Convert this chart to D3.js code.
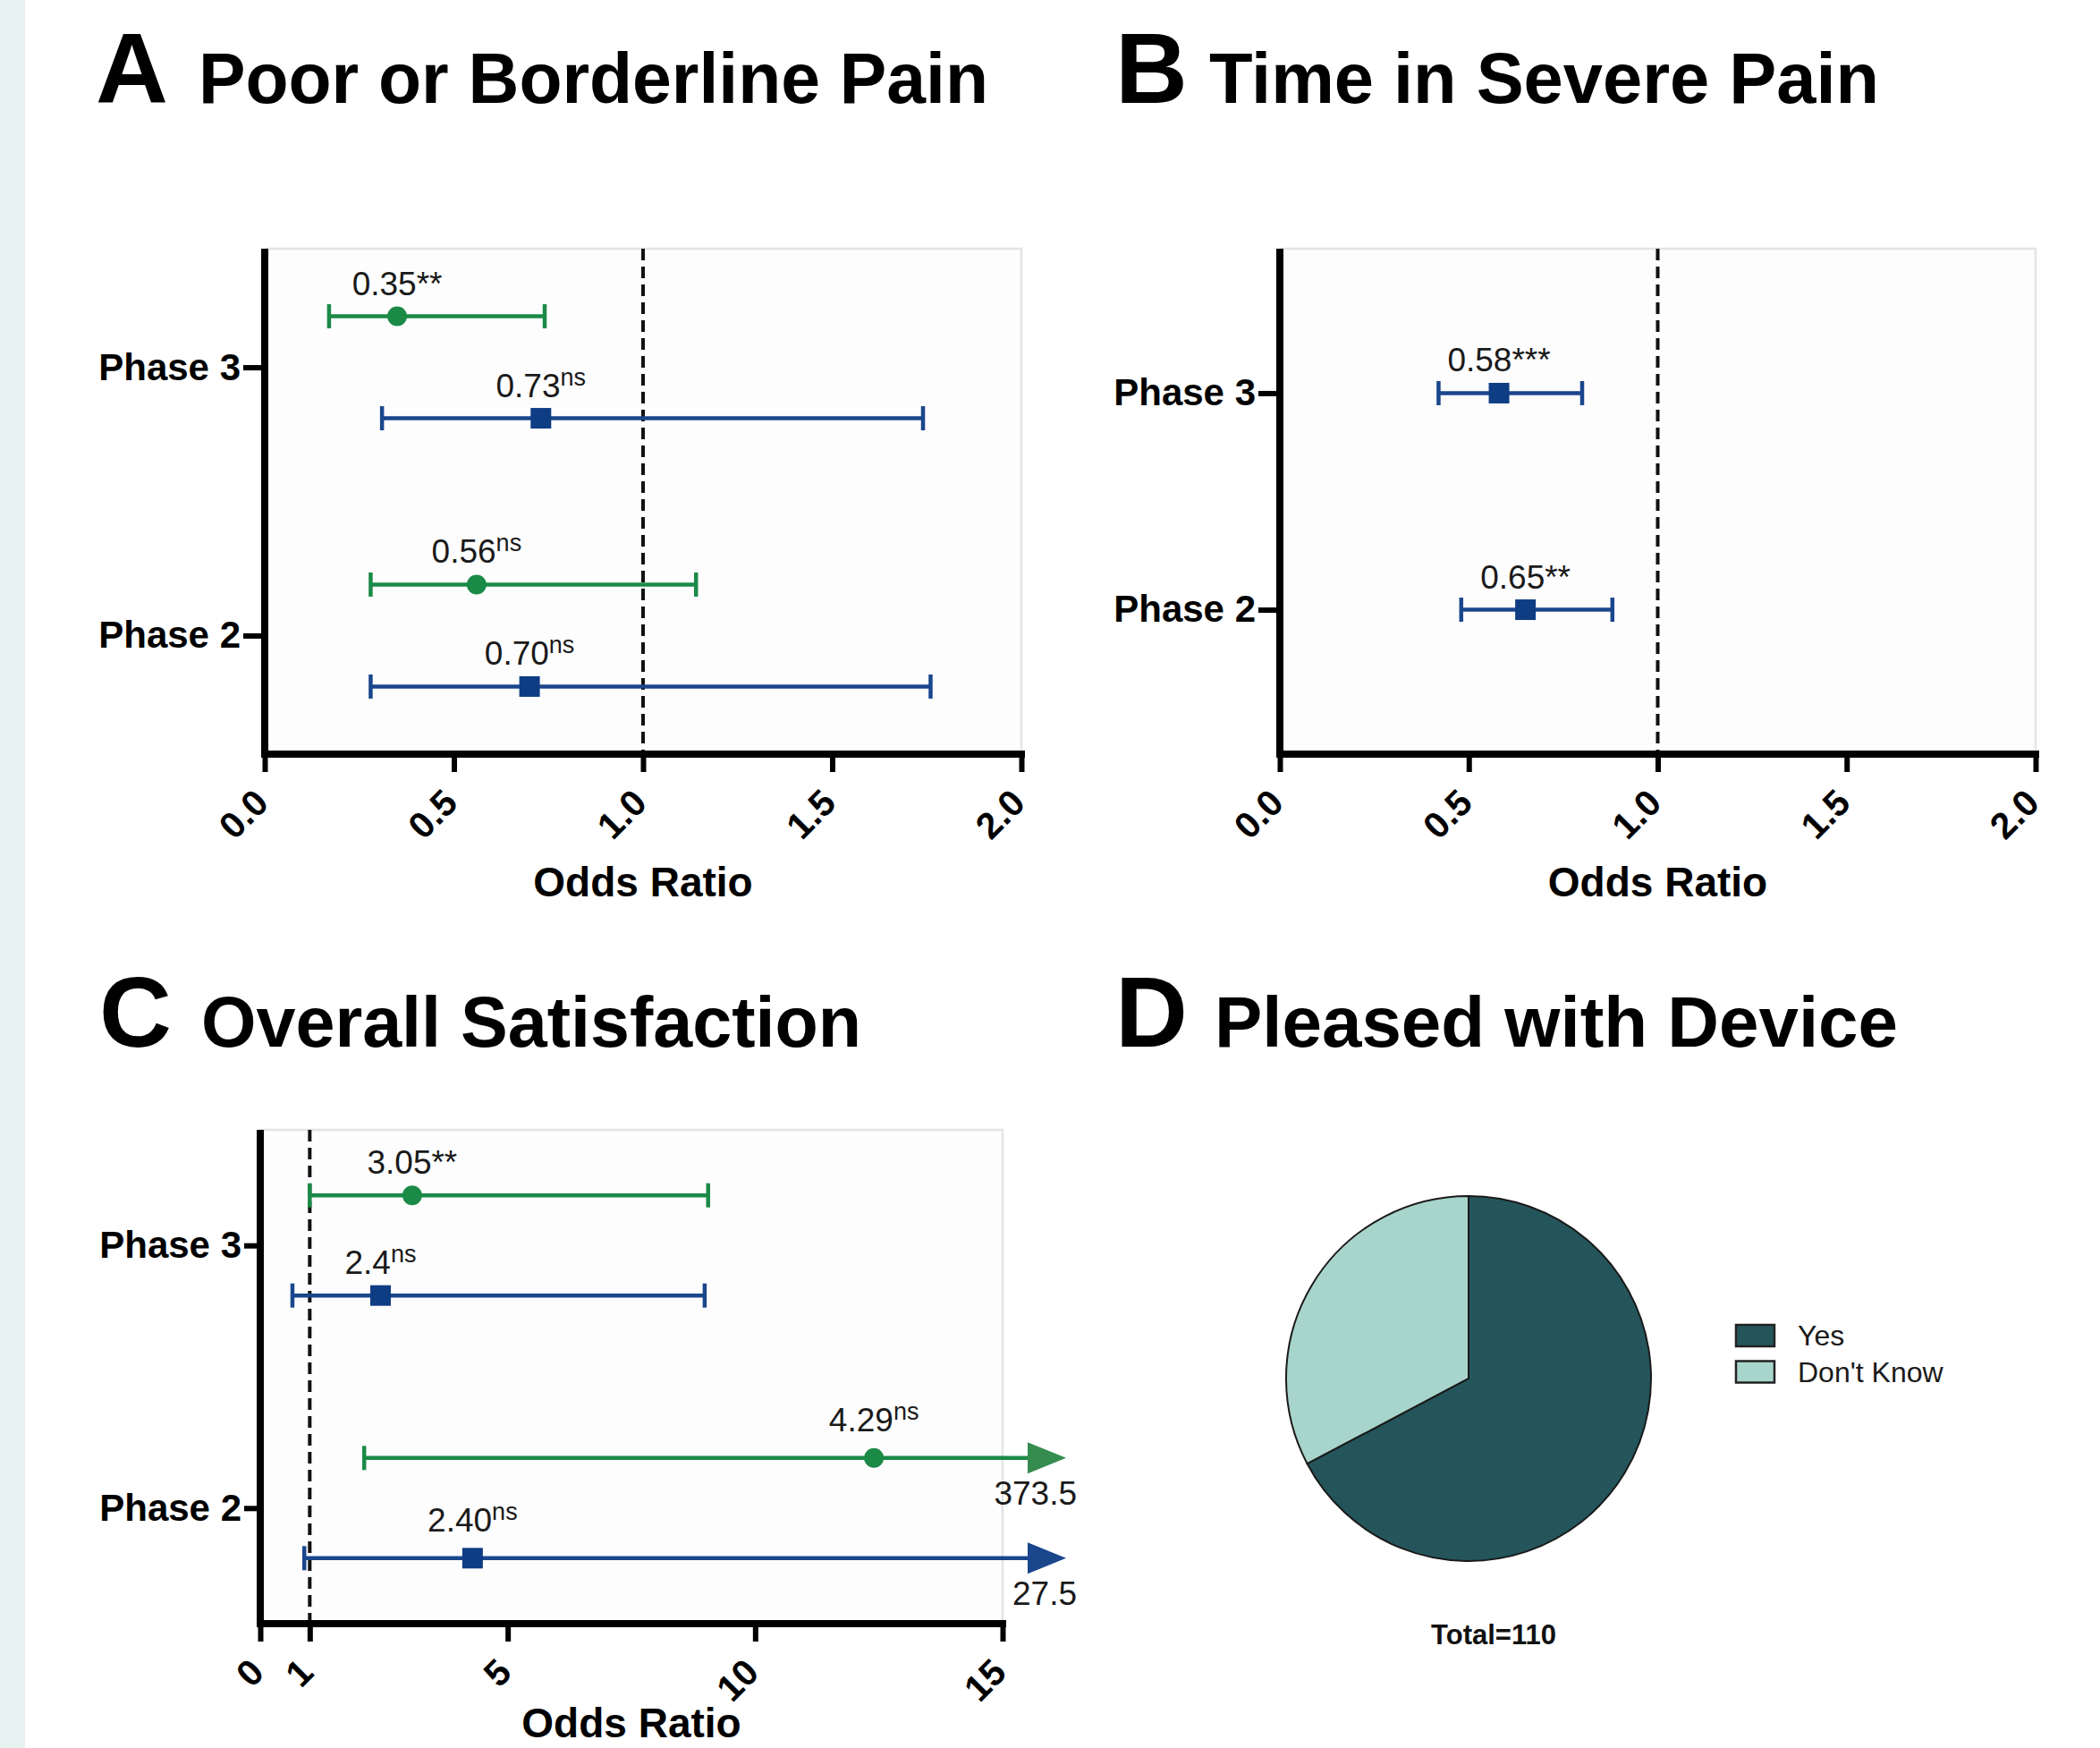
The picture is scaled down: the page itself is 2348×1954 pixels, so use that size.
<!DOCTYPE html>
<html><head><meta charset="utf-8">
<script src="https://cdn.jsdelivr.net/npm/d3@7"></script>
<style>
body{margin:0;background:#fff;}
svg{display:block;}
text{font-family:"Liberation Sans",Arial,Helvetica,sans-serif;}
</style>
</head><body>
<svg id="c" width="2348" height="1954"></svg>
<script>
// ---------------- DATA ----------------
const panelLetters = ["A", "B", "C", "D"];
const panelTitles = ["Poor or Borderline Pain", "Time in Severe Pain", "Overall Satisfaction", "Pleased with Device"];
const phases = ["Phase 3", "Phase 2"];
const groups = ["Group 1", "Group 2"]; // green circle, blue square

// Panel A
const aPhase = ["Phase 3", "Phase 3", "Phase 2", "Phase 2"];
const aGroup = ["Group 1", "Group 2", "Group 1", "Group 2"];
const aOR   = [0.35, 0.73, 0.56, 0.70];
const aLow  = [0.17, 0.31, 0.28, 0.28];
const aHigh = [0.74, 1.74, 1.14, 1.76];
const aText = ["0.35", "0.73", "0.56", "0.70"];
const aSig  = ["**", "ns", "ns", "ns"];

// Panel B
const bPhase = ["Phase 3", "Phase 2"];
const bGroup = ["Group 2", "Group 2"];
const bOR   = [0.58, 0.65];
const bLow  = [0.42, 0.48];
const bHigh = [0.80, 0.88];
const bText = ["0.58", "0.65"];
const bSig  = ["***", "**"];

// Panel C (marker positions as drawn in the figure)
const cPhase = ["Phase 3", "Phase 3", "Phase 2", "Phase 2"];
const cGroup = ["Group 1", "Group 2", "Group 1", "Group 2"];
const cOR   = [3.07, 2.43, 12.4, 4.29];
const cLow  = [1.0, 0.65, 2.1, 0.89];
const cHigh = [9.05, 8.98, 373.5, 27.5];
const cText = ["3.05", "2.4", "4.29", "2.40"];
const cSig  = ["**", "ns", "ns", "ns"];

// Tick values
const abTicks = [0, 0.5, 1, 1.5, 2];
const cTicks  = [0, 1, 5, 10, 15];
const refValue = 1;
const xTitle = "Odds Ratio";

// Panel D
const pieCats = ["Yes", "Don't Know"];
const pieVals = [74, 36];
const pieTotalLabel = "Total=110";

// ---------------- STYLE ----------------
const groupColor = {"Group 1": "#1b8a47", "Group 2": "#1a468c"};
const arrowColor = {"Group 1": "#358c4f", "Group 2": "#1a468c"};
const pieColors = ["#24555b", "#a8d5cb"];

const svg = d3.select("#c");
svg.append("rect").attr("x", 0).attr("y", 0).attr("width", 2348).attr("height", 1954).attr("fill", "#fff");
svg.append("rect").attr("x", 0).attr("y", 0).attr("width", 28).attr("height", 1954).attr("fill", "#e7f1ef");

// ---------------- TITLES ----------------
const titlePos = [
  {x: 107, y: 115}, {x: 1247, y: 115}, {x: 111, y: 1170}, {x: 1247, y: 1170}
];
const titleTextX = [222, 1352, 225, 1358];
const titleTextW = [883, 749, 738, 764];
panelLetters.forEach((L, i) => {
  const t = svg.append("g");
  t.append("text").attr("x", titlePos[i].x).attr("y", titlePos[i].y)
    .attr("font-size", 112).attr("font-weight", "bold").attr("fill", "#000").text(L);
  t.append("text").attr("x", titleTextX[i]).attr("y", titlePos[i].y)
    .attr("font-size", 80).attr("font-weight", "bold").attr("fill", "#000")
    .attr("textLength", titleTextW[i]).attr("lengthAdjust", "spacingAndGlyphs")
    .text(panelTitles[i]);
});

// ---------------- FOREST PANELS ----------------
function forest(cfg) {
  const g = svg.append("g");
  const x = d3.scaleLinear().domain(cfg.domain).range([cfg.left, cfg.right]);
  const y = d3.scalePoint().domain(phases).range([cfg.top, cfg.bottom]).padding(cfg.pad);
  const off = d3.scaleOrdinal().domain(groups).range([-cfg.offset, cfg.offset]);

  // plot background
  g.append("rect").attr("x", cfg.left).attr("y", cfg.top)
    .attr("width", cfg.right - cfg.left).attr("height", cfg.bottom - cfg.top).attr("fill", "#fdfdfd");
  g.append("path").attr("d", `M${cfg.left},${cfg.top}H${cfg.right}V${cfg.bottom}`)
    .attr("fill", "none").attr("stroke", "#e4e4e4").attr("stroke-width", 2.5);

  // reference line
  g.append("line").attr("x1", x(refValue)).attr("x2", x(refValue))
    .attr("y1", cfg.top).attr("y2", cfg.bottom)
    .attr("stroke", "#111").attr("stroke-width", 4).attr("stroke-dasharray", "13,7");

  const rows = cfg.or.map((v, i) => ({
    phase: cfg.phase[i], group: cfg.group[i], or: v, lo: cfg.lo[i], hi: cfg.hi[i],
    text: cfg.text[i], sig: cfg.sig[i]
  }));
  const xmax = cfg.domain[1];

  rows.forEach(d => {
    const cy = y(d.phase) + off(d.group);
    const col = groupColor[d.group];
    const x0 = x(d.lo);
    const over = d.hi > xmax;
    const x1 = over ? x(xmax) + 30 : x(d.hi);
    g.append("line").attr("x1", x0).attr("x2", x1).attr("y1", cy).attr("y2", cy)
      .attr("stroke", col).attr("stroke-width", 4.5);
    g.append("line").attr("x1", x0).attr("x2", x0).attr("y1", cy - 13.5).attr("y2", cy + 13.5)
      .attr("stroke", col).attr("stroke-width", 4.5);
    if (!over) {
      g.append("line").attr("x1", x1).attr("x2", x1).attr("y1", cy - 13.5).attr("y2", cy + 13.5)
        .attr("stroke", col).attr("stroke-width", 4.5);
    } else {
      const tip = x(xmax) + 71;
      g.append("path").attr("d", `M${x1 - 2},${cy - 17.5}L${tip},${cy}L${x1 - 2},${cy + 17.5}Z`)
        .attr("fill", arrowColor[d.group]);
      g.append("text").attr("x", x(xmax) + 83).attr("y", cy + 52)
        .attr("text-anchor", "end").attr("font-size", 37).attr("fill", "#1a1a1a")
        .text(d.hi);
    }
    if (d.group === "Group 1") {
      g.append("circle").attr("cx", x(d.or)).attr("cy", cy).attr("r", 11).attr("fill", col);
    } else {
      g.append("rect").attr("x", x(d.or) - 11.5).attr("y", cy - 11.5)
        .attr("width", 23).attr("height", 23).attr("fill", "#0f3d84");
    }
    const lab = g.append("text").attr("x", x(d.or)).attr("y", cy - (over ? 30 : 24))
      .attr("text-anchor", "middle").attr("font-size", 37).attr("fill", "#1a1a1a");
    lab.append("tspan").text(d.text);
    if (d.sig === "ns") {
      lab.append("tspan").attr("font-size", 27).attr("dy", -13).text(d.sig);
    } else {
      lab.append("tspan").text(d.sig);
    }
  });

  // axes
  const xa = g.append("g").attr("transform", `translate(0,${cfg.bottom})`)
    .call(d3.axisBottom(x).tickValues(cfg.ticks).tickFormat(cfg.fmt).tickSize(20).tickSizeOuter(0));
  xa.select(".domain").attr("stroke", "#000").attr("stroke-width", 8)
    .attr("d", `M${cfg.left - 4},0H${cfg.right + 4}`);
  xa.selectAll(".tick line").attr("stroke", "#000").attr("stroke-width", 6);
  xa.selectAll(".tick text")
    .attr("font-size", 41).attr("font-weight", "bold").attr("fill", "#000")
    .attr("text-anchor", "end").attr("dominant-baseline", "central")
    .attr("x", -4).attr("y", 47).attr("dy", null)
    .attr("transform", "rotate(-45,-4,47)");

  const ya = g.append("g").attr("transform", `translate(${cfg.left},0)`)
    .call(d3.axisLeft(y).tickSize(cfg.ytick).tickPadding(3).tickSizeOuter(0));
  ya.select(".domain").attr("stroke", "#000").attr("stroke-width", 8)
    .attr("d", `M0,${cfg.top}V${cfg.bottom + 4}`);
  ya.selectAll(".tick line").attr("stroke", "#000").attr("stroke-width", 6);
  ya.selectAll(".tick text").attr("font-size", 42).attr("font-weight", "bold").attr("fill", "#000");

  g.append("text").attr("x", (cfg.left + cfg.right) / 2).attr("y", cfg.titleY)
    .attr("text-anchor", "middle").attr("font-size", 46).attr("font-weight", "bold").attr("fill", "#000")
    .text(xTitle);
}

forest({left: 296, right: 1142, top: 278, bottom: 843, pad: 0.442, offset: 57, ytick: 24,
  domain: [0, 2], ticks: abTicks, fmt: d3.format(".1f"), titleY: 1002,
  phase: aPhase, group: aGroup, or: aOR, lo: aLow, hi: aHigh, text: aText, sig: aSig});
forest({left: 1431, right: 2276, top: 278, bottom: 843, pad: 0.667, offset: 0, ytick: 24,
  domain: [0, 2], ticks: abTicks, fmt: d3.format(".1f"), titleY: 1002,
  phase: bPhase, group: bGroup, or: bOR, lo: bLow, hi: bHigh, text: bText, sig: bSig});
forest({left: 291, right: 1121, top: 1263, bottom: 1815, pad: 0.44, offset: 56, ytick: 18,
  domain: [0, 15], ticks: cTicks, fmt: d3.format("d"), titleY: 1942,
  phase: cPhase, group: cGroup, or: cOR, lo: cLow, hi: cHigh, text: cText, sig: cSig});

// ---------------- PIE ----------------
const pieG = svg.append("g").attr("transform", "translate(1642,1541)");
const arcs = d3.pie().sort(null)(pieVals);
const arcGen = d3.arc().innerRadius(0).outerRadius(204);
pieG.selectAll("path").data(arcs).join("path")
  .attr("d", arcGen).attr("fill", (d, i) => pieColors[i])
  .attr("stroke", "#1a1a1a").attr("stroke-width", 2);

const leg = svg.append("g");
pieCats.forEach((c, i) => {
  leg.append("rect").attr("x", 1941).attr("y", 1481 + i * 40.5).attr("width", 43).attr("height", 24)
    .attr("fill", pieColors[i]).attr("stroke", "#222").attr("stroke-width", 2.5);
  leg.append("text").attr("x", 2010).attr("y", 1504 + i * 40.5)
    .attr("font-size", 32).attr("fill", "#1a1a1a").text(c);
});
svg.append("text").attr("x", 1670).attr("y", 1838).attr("text-anchor", "middle")
  .attr("font-size", 31).attr("font-weight", "bold").attr("fill", "#111").text(pieTotalLabel);
</script>
</body></html>
